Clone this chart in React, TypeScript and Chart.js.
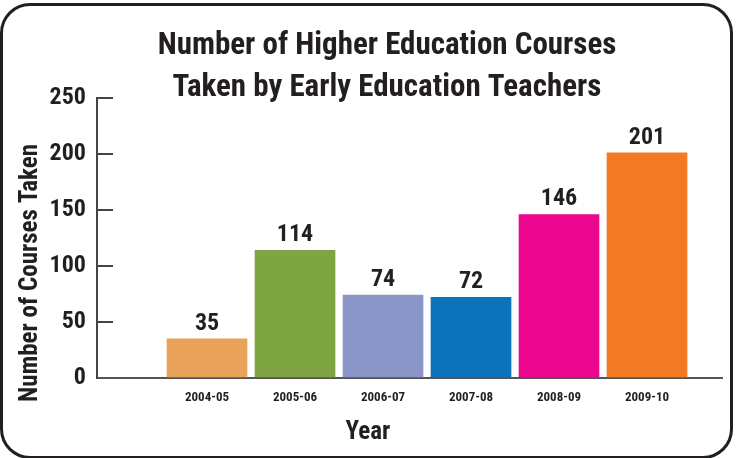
import React, { useEffect, useRef } from "react";
import { Chart, registerables } from "chart.js";

Chart.register(...registerables);

const categories = ["2004-05", "2005-06", "2006-07", "2007-08", "2008-09", "2009-10"];
const courses = [35, 114, 74, 72, 146, 201];
const barColors = ["#E9A25A", "#7FA542", "#8A95C8", "#0B73B9", "#EC068D", "#F27A24"];
const yTickStep = 50;
const yMax = 250;
const titleLines = ["Number of Higher Education Courses", "Taken by Early Education Teachers"];
const yTitle = "Number of Courses Taken";
const xTitle = "Year";

const FONT = '"Roboto Condensed", "DejaVu Sans Condensed", sans-serif';
const INK = "#231F20";

const textPlugin = {
  id: "textLayer",
  afterDatasetsDraw(chart: any) {
    const ctx = chart.ctx;
    const meta = chart.getDatasetMeta(0);
    const area = chart.chartArea;
    ctx.save();
    ctx.fillStyle = INK;
    ctx.textAlign = "center";
    ctx.textBaseline = "alphabetic";
    // value labels above bars
    ctx.font = `bold 24px ${FONT}`;
    meta.data.forEach((bar: any, i: number) => {
      ctx.fillText(String(courses[i]), bar.x, bar.y - 9);
    });
    // main title
    ctx.font = `bold 31px ${FONT}`;
    titleLines.forEach((line, i) => {
      ctx.fillText(line, 387, 54 + i * 42);
    });
    // axis titles
    ctx.font = `bold 25px ${FONT}`;
    ctx.fillText(xTitle, area.left + 271, area.bottom + 61);
    ctx.translate(37, area.top + 175);
    ctx.rotate(-Math.PI / 2);
    ctx.fillText(yTitle, 0, 0);
    ctx.restore();
  },
};

export default function App() {
  const ref = useRef<HTMLCanvasElement>(null);

  useEffect(() => {
    if (!ref.current) return;
    const chart = new Chart(ref.current, {
      type: "bar",
      data: {
        datasets: [
          {
            data: courses.map((v, i) => ({ x: i, y: v })),
            backgroundColor: barColors,
            borderWidth: 0,
            barThickness: 80,
          },
        ],
      },
      options: {
        responsive: false,
        maintainAspectRatio: false,
        animation: false,
        layout: { padding: { left: 0, right: 16, top: 98, bottom: 0 } },
        plugins: {
          legend: { display: false },
          tooltip: { enabled: false },
          title: { display: false },
        },
        scales: {
          x: {
            type: "linear",
            offset: false,
            min: -1.25,
            max: 5.852,
            afterBuildTicks: (s: any) => {
              s.ticks = categories.map((_, i) => ({ value: i }));
            },
            afterFit: (s: any) => {
              s.height = 80;
            },
            grid: { display: false, drawTicks: false, offset: false },
            border: { display: true, color: "#555", width: 2 },
            ticks: {
              callback: (v: any) => categories[v] ?? "",
              color: INK,
              font: { family: FONT, size: 13, weight: "bold" },
              padding: 12,
              maxRotation: 0,
              autoSkip: false,
            },
          },
          y: {
            min: 0,
            max: yMax,
            afterFit: (s: any) => {
              s.width = 97;
            },
            ticks: {
              stepSize: yTickStep,
              padding: 27,
              color: INK,
              font: { family: FONT, size: 24, weight: "bold" },
            },
            grid: {
              drawOnChartArea: false,
              drawTicks: true,
              tickLength: -16,
              color: "#444",
              lineWidth: 2,
            },
            border: { display: true, color: "#444", width: 2 },
          },
        },
      },
      plugins: [textPlugin],
    } as any);
    return () => chart.destroy();
  }, []);

  return (
    <div style={{ position: "fixed", left: 0, top: 0, width: 738, height: 458, background: "#fff" }}>
      <canvas ref={ref} width={738} height={458} style={{ position: "absolute", left: 0, top: 0 }} />
      <div
        style={{
          position: "absolute",
          left: 0,
          top: 3,
          width: 733,
          height: 456,
          boxSizing: "border-box",
          border: `3px solid ${INK}`,
          borderRadius: 30,
          pointerEvents: "none",
        }}
      />
    </div>
  );
}
